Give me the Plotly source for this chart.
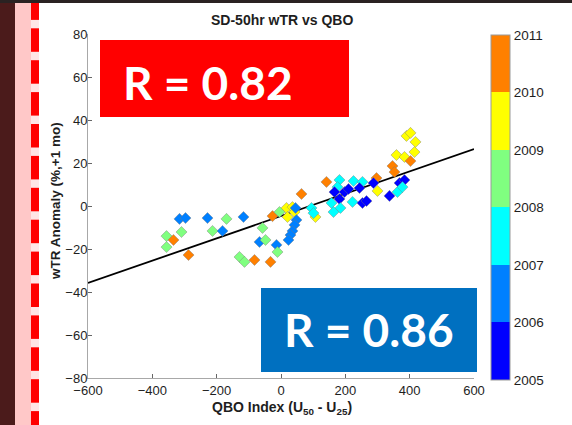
import plotly.graph_objects as go

# ---------------- data ----------------
qbo_index = [
    -315.5, -296.9, -228.5, -169.4, -116.6, -355.9, -334.2, -309.3, -355.9, -212.9,
    -181.8, -287.5, -129.0, -113.5, -82.4, -32.6,
    -57.5, -66.8, -48.2, -14.0, -10.9, -26.4, -4.7, 17.1, 35.7, 20.2,
    42.0, 45.1, 63.7, 141.4, 48.2, 42.0, 35.7, 29.5, 23.3, 107.2,
    94.8, 101.0,
    181.8, 225.4, 253.3, 296.9, 287.5, 175.6, 166.3, 197.4, 209.8, 244.0,
    300.0, 181.8, 222.3, 253.3, 265.8, 337.3, 156.9, 163.2, 184.9,
    368.4, 383.9, 362.1, 377.7, 346.6, 352.8, 359.0, 383.9, 402.6, 415.0,
    418.1, 390.1, 402.6,
]
wtr_anomaly = [
    -6.0, -5.6, -5.6, -6.0, -5.1, -14.0, -15.8, -12.1, -19.1, -11.6,
    -11.6, -22.8, -23.7, -26.0, -25.1, -26.0,
    -10.2, -16.7, -15.8, -18.1, -21.4, -4.7, -2.8, -0.9, -0.5, -5.1,
    -2.8, -0.9, 5.6, 11.2, -6.5, -8.8, -11.6, -13.5, -15.8, -5.1,
    -0.9, -3.3,
    12.1, 11.6, 11.2, 13.0, 10.7, 8.8, 6.5, 6.5, 7.9, 8.4,
    7.0, 3.3, 1.9, 1.4, 2.3, 4.7, 1.4, -2.8, -0.9,
    10.7, 12.1, 6.5, 8.8, 18.6, 15.8, 23.7, 22.8, 20.9, 25.1,
    29.8, 32.6, 34.0,
]
year = [
    2006.5, 2006.5, 2006.5, 2008.5, 2006.5, 2008.5, 2010.5, 2008.5, 2008.5, 2008.5,
    2006.5, 2010.5, 2008.5, 2008.5, 2010.5, 2010.5,
    2008.5, 2006.5, 2008.5, 2006.5, 2008.5, 2010.5, 2008.5, 2009.5, 2009.5, 2009.5,
    2009.5, 2006.5, 2010.5, 2010.5, 2006.5, 2006.5, 2006.5, 2006.5, 2006.5, 2009.5,
    2007.5, 2007.5,
    2007.5, 2007.5, 2007.5, 2010.5, 2005.5, 2007.5, 2005.5, 2005.5, 2005.5, 2005.5,
    2009.5, 2005.5, 2007.5, 2005.5, 2005.5, 2005.5, 2007.5, 2007.5, 2007.5,
    2005.5, 2005.5, 2007.5, 2007.5, 2010.5, 2010.5, 2009.5, 2009.5, 2010.5, 2009.5,
    2009.5, 2009.5, 2009.5,
]
fit_x = [-600, 600]
fit_y = [-35.8, 26.5]
year_ticks = [2005, 2006, 2007, 2008, 2009, 2010, 2011]
band_colors = ["#0000FF", "#0080FF", "#00FFFF", "#80FF80", "#FFFF00", "#FF8000"]
x_ticks = [-600, -400, -200, 0, 200, 400, 600]
y_ticks = [-80, -60, -40, -20, 0, 20, 40, 60, 80]
r_left = "R = 0.82"
r_right = "R = 0.86"

# ---------------- layout helpers ----------------
W, H = 572, 425
PL, PR, PT, PB = 88, 474, 34, 378


def fx(px):
    return (px - PL) / (PR - PL)


def fy(py):
    return (PB - py) / (PB - PT)


n = len(band_colors)
colorscale = []
for i, c in enumerate(band_colors):
    colorscale.append([i / n, c])
    colorscale.append([(i + 1) / n, c])

font_family = "Liberation Sans, Arial, sans-serif"
text_col = "#1E1E1E"

fig = go.Figure()

fig.add_trace(go.Scatter(
    x=fit_x, y=fit_y, mode="lines",
    line=dict(color="black", width=1.8), showlegend=False, hoverinfo="skip",
))

fig.add_trace(go.Scatter(
    x=qbo_index, y=wtr_anomaly, mode="markers", showlegend=False,
    marker=dict(
        symbol="diamond", size=8.5, color=year, colorscale=colorscale,
        cmin=year_ticks[0], cmax=year_ticks[-1],
        line=dict(color="rgba(120,120,120,0.7)", width=0.6),
        showscale=True,
        colorbar=dict(
            x=fx(491), xanchor="left", xpad=0, ypad=0,
            y=fy(207.5), yanchor="middle", len=(380 - 35) / (PB - PT),
            thickness=19, tickvals=year_ticks, ticktext=[str(t) for t in year_ticks],
            ticks="", outlinecolor="#999999", outlinewidth=1,
            tickfont=dict(family=font_family, size=13.5, color=text_col),
        ),
    ),
))

shapes = []
# left decorative strips
shapes.append(dict(type="rect", xref="paper", yref="paper", x0=fx(0), x1=fx(15),
                   y0=fy(425), y1=fy(0), fillcolor="#4B1B1B", line=dict(width=0), layer="below"))
shapes.append(dict(type="rect", xref="paper", yref="paper", x0=fx(15), x1=fx(31),
                   y0=fy(425), y1=fy(0), fillcolor="#FFC8C8", line=dict(width=0), layer="below"))
shapes.append(dict(type="rect", xref="paper", yref="paper", x0=fx(31), x1=fx(39),
                   y0=fy(425), y1=fy(0), fillcolor="#FFE6E6", line=dict(width=0), layer="below"))
for k in range(-1, 14):
    y0 = 28.3 + 31.9 * k
    y1 = y0 + 23.5
    y0c, y1c = max(y0, 0), min(y1, H)
    if y1c <= y0c:
        continue
    shapes.append(dict(type="rect", xref="paper", yref="paper", x0=fx(31), x1=fx(39),
                       y0=fy(y1c), y1=fy(y0c), fillcolor="#FF0000", line=dict(width=0), layer="below"))
# top dark bar
shapes.append(dict(type="rect", xref="paper", yref="paper", x0=fx(0), x1=fx(W),
                   y0=fy(3), y1=fy(0), fillcolor="#2A2222", line=dict(width=0), layer="above"))
# R boxes
shapes.append(dict(type="rect", xref="paper", yref="paper", x0=fx(100), x1=fx(349),
                   y0=fy(117), y1=fy(40), fillcolor="#FF0000", line=dict(width=0), layer="above"))
shapes.append(dict(type="rect", xref="paper", yref="paper", x0=fx(261), x1=fx(477),
                   y0=fy(372), y1=fy(288), fillcolor="#0070C0", line=dict(width=0), layer="above"))

annotations = [
    dict(text="<b>SD-50hr wTR vs QBO</b>", xref="paper", yref="paper", x=fx(282), y=fy(19.5),
         showarrow=False, xanchor="center", yanchor="middle",
         font=dict(family=font_family, size=14, color=text_col)),
    dict(text="<b>wTR Anomaly (%,+1 mo)</b>", xref="paper", yref="paper", x=fx(55), y=fy(201),
         showarrow=False, xanchor="center", yanchor="middle", textangle=-90,
         font=dict(family=font_family, size=13.5, color=text_col)),
    dict(text="<b>QBO Index (U<sub>50</sub> - U<sub>25</sub>)</b>", xref="paper", yref="paper",
         x=fx(282), y=fy(408), showarrow=False, xanchor="center", yanchor="middle",
         font=dict(family=font_family, size=14, color=text_col)),
    dict(text="<b>" + r_left + "</b>", xref="paper", yref="paper", x=fx(208), y=fy(82),
         showarrow=False, xanchor="center", yanchor="middle",
         font=dict(family="Lato", size=46, color="white")),
    dict(text="<b>" + r_right + "</b>", xref="paper", yref="paper", x=fx(369), y=fy(329),
         showarrow=False, xanchor="center", yanchor="middle",
         font=dict(family="Lato", size=46, color="white")),
]

fig.update_layout(
    width=W, height=H,
    margin=dict(l=PL, r=W - PR, t=PT, b=H - PB, autoexpand=False),
    paper_bgcolor="white", plot_bgcolor="white",
    shapes=shapes, annotations=annotations,
    xaxis=dict(range=[-600, 600], tickvals=x_ticks, ticks="inside", ticklen=4,
               tickcolor="#666666", showline=True, linecolor="#A8A8A8", linewidth=1,
               showgrid=False, zeroline=False,
               tickfont=dict(family=font_family, size=13, color=text_col)),
    yaxis=dict(range=[-80, 80], tickvals=y_ticks, ticks="inside", ticklen=4,
               tickcolor="#666666", showline=True, linecolor="#A8A8A8", linewidth=1,
               showgrid=False, zeroline=False, ticklabelstandoff=-3,
               tickfont=dict(family=font_family, size=13, color=text_col)),
)

fig.write_html("out.html")
